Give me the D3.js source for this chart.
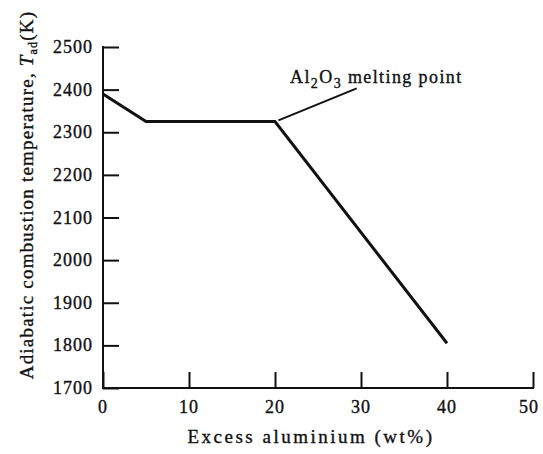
<!DOCTYPE html>
<html>
<head>
<meta charset="utf-8">
<script src="https://cdn.jsdelivr.net/npm/d3@7"></script>
<style>
body { margin: 0; background: #fff; }
text { font-family: "Liberation Serif", "Times New Roman", serif; fill: #111; stroke: #111; stroke-width: 0.35px; }
</style>
</head>
<body>
<svg width="543" height="454"></svg>
<script>
var svg = d3.select("svg");

// data
var excessAl = [0, 5, 20, 40];
var tempAd = [2390, 2325, 2325, 1805];
var xTicks = [0, 10, 20, 30, 40, 50];
var yTicks = [1700, 1800, 1900, 2000, 2100, 2200, 2300, 2400, 2500];
var leader = [[20.4, 2328], [29.5, 2403]];

var x = d3.scaleLinear().domain([0, 50]).range([103, 533]);
var y = d3.scaleLinear().domain([1700, 2500]).range([388, 47]);

var tickLen = 16;

// y axis, ticks pointing inward
var yAxis = svg.append("g")
	.attr("transform", "translate(" + x(0) + ",0)")
	.call(d3.axisRight(y).tickValues(yTicks).tickSize(tickLen).tickFormat(""));
yAxis.select(".domain").remove();
yAxis.selectAll("line").attr("stroke", "#111").attr("stroke-width", 2);

svg.append("line")
	.attr("x1", x(0)).attr("x2", x(0))
	.attr("y1", y(2500) - 1).attr("y2", y(1700) + 1)
	.attr("stroke", "#111").attr("stroke-width", 2);

svg.selectAll(".ylab")
	.data(yTicks)
	.enter().append("text")
	.attr("class", "ylab")
	.attr("x", 93)
	.attr("y", d => y(d) + 6)
	.attr("text-anchor", "end")
	.style("font-size", "18px")
	.style("letter-spacing", "1px")
	.text(d => d);

// x axis, ticks pointing up
var xAxis = svg.append("g")
	.attr("transform", "translate(0," + y(1700) + ")")
	.call(d3.axisTop(x).tickValues(xTicks).tickSize(tickLen).tickFormat(""));
xAxis.select(".domain").remove();
xAxis.selectAll("line").attr("stroke", "#111").attr("stroke-width", 2);

svg.append("line")
	.attr("x1", x(0) - 1).attr("x2", x(50) + 1)
	.attr("y1", y(1700)).attr("y2", y(1700))
	.attr("stroke", "#111").attr("stroke-width", 2);

svg.selectAll(".xlab")
	.data(xTicks)
	.enter().append("text")
	.attr("class", "xlab")
	.attr("x", d => x(d) - (d == 50 ? 4 : 0))
	.attr("y", 413)
	.attr("text-anchor", "middle")
	.style("font-size", "18px")
	.style("letter-spacing", "1px")
	.text(d => d);

// curve
var line = d3.line()
	.x((d, i) => x(excessAl[i]))
	.y(d => y(d));

svg.append("path")
	.datum(tempAd)
	.attr("d", line)
	.attr("fill", "none")
	.attr("stroke", "#111")
	.attr("stroke-width", 3)
	.attr("stroke-linejoin", "miter");

// annotation
svg.append("line")
	.attr("x1", x(leader[0][0])).attr("y1", y(leader[0][1]))
	.attr("x2", x(leader[1][0])).attr("y2", y(leader[1][1]))
	.attr("stroke", "#111").attr("stroke-width", 2);

var note = svg.append("text")
	.attr("x", 290)
	.attr("y", 83)
	.style("font-size", "18px")
	.style("letter-spacing", "1.4px");
note.append("tspan").text("Al");
note.append("tspan").attr("dy", 5).style("font-size", "14px").text("2");
note.append("tspan").attr("dy", -5).text("O");
note.append("tspan").attr("dy", 5).style("font-size", "14px").text("3");
note.append("tspan").attr("dy", -5).text(" melting point");

// axis titles
svg.append("text")
	.attr("x", 311)
	.attr("y", 443)
	.attr("text-anchor", "middle")
	.style("font-size", "19px")
	.style("letter-spacing", "2.5px")
	.text("Excess aluminium (wt%)");

var ytitle = svg.append("text")
	.attr("transform", "translate(33,195) rotate(-90)")
	.attr("text-anchor", "middle")
	.style("font-size", "19px")
	.style("letter-spacing", "1.2px");
ytitle.append("tspan").text("Adiabatic combustion temperature, ");
ytitle.append("tspan").style("font-style", "italic").text("T");
ytitle.append("tspan").attr("dy", 4).style("font-size", "12px").text("ad");
ytitle.append("tspan").attr("dy", -4).text("(K)");
</script>
</body>
</html>
